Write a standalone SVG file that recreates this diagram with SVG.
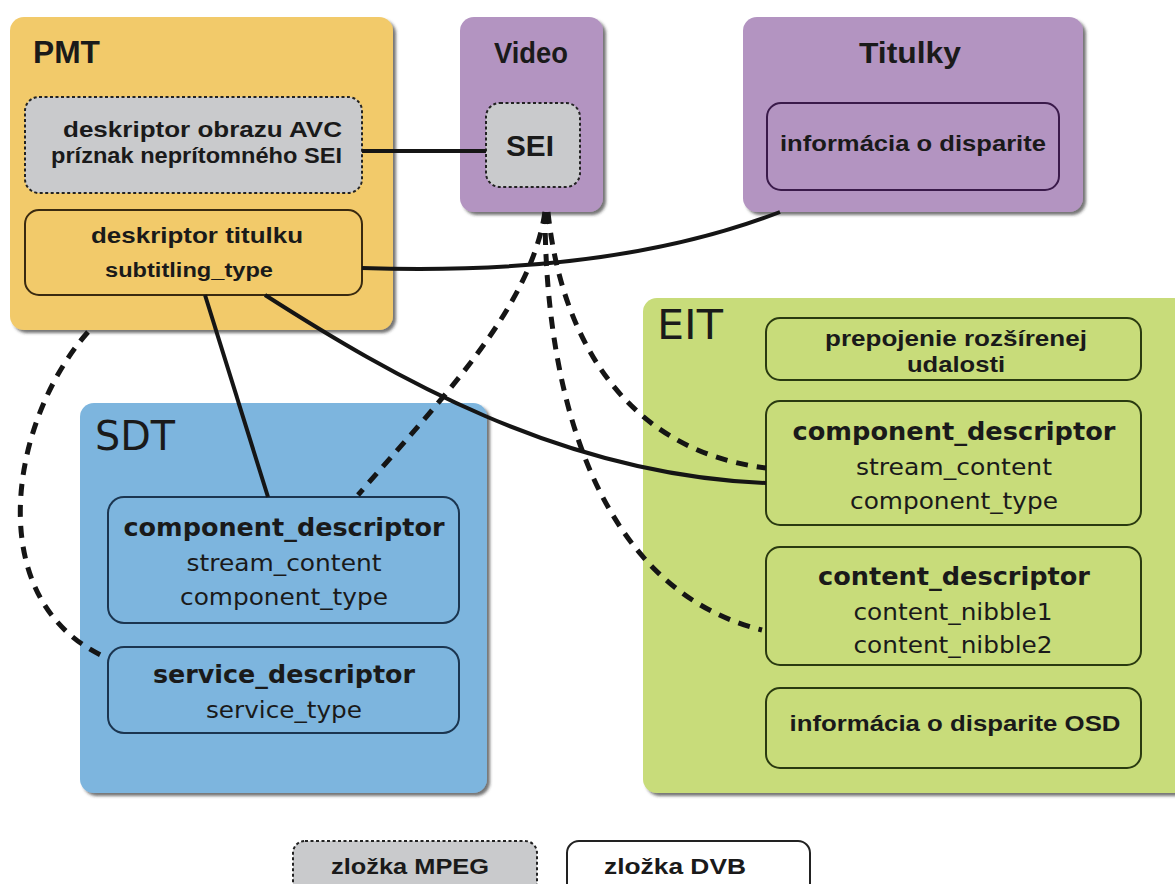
<svg xmlns="http://www.w3.org/2000/svg" width="1175" height="884" viewBox="0 0 1175 884">
  <defs>
    <filter id="shadow" x="-5%" y="-5%" width="115%" height="115%">
      <feDropShadow dx="3" dy="3" stdDeviation="1.8" flood-color="#2a2a2a" flood-opacity="0.65"/>
    </filter>
  </defs>
  <style>
    .panel { filter: url(#shadow); }
    .pmt { fill: #F2CA6A; }
    .purple { fill: #B394C1; }
    .sdt { fill: #7DB5DE; }
    .eit { fill: #C8DC7A; }
    .mpeg { fill: #C9CACC; stroke: #222; stroke-width: 2; stroke-dasharray: 3 2.5; }
    .dvb { fill: none; stroke-width: 2; }
    text { fill: #1a1a1a; }
    .t-title { font-family: "Liberation Sans", Arial, sans-serif; font-weight: bold; font-size: 29px; }
    .t-big { font-family: "DejaVu Sans", Verdana, sans-serif; font-size: 41px; }
    .t-b { font-family: "Liberation Sans", Arial, sans-serif; font-weight: bold; font-size: 22px; }
    .t-vb { font-family: "DejaVu Sans", Verdana, sans-serif; font-weight: bold; font-size: 24px; }
    .t-v { font-family: "DejaVu Sans", Verdana, sans-serif; font-size: 23px; }
    .c { text-anchor: middle; }
    .solid { fill: none; stroke: #151515; stroke-width: 4; }
    .dash { fill: none; stroke: #151515; stroke-width: 5; stroke-dasharray: 12 9; }
  </style>
  <rect width="1175" height="884" fill="#FFFFFF"/>

  <!-- PMT table -->
  <g id="pmt">
    <rect class="panel pmt" x="10" y="17" width="383" height="313" rx="14"/>
    <text class="t-title" x="33" y="63" style="font-size:31px" textLength="67" lengthAdjust="spacingAndGlyphs">PMT</text>
    <g id="pmt-avc">
      <rect class="mpeg" x="25" y="97" width="337" height="96" rx="14"/>
      <text class="t-b" x="63" y="137" textLength="279" lengthAdjust="spacingAndGlyphs">deskriptor obrazu AVC</text>
      <text class="t-b" x="51" y="163" textLength="291" lengthAdjust="spacingAndGlyphs">príznak neprítomného SEI</text>
    </g>
    <g id="pmt-subtitle">
      <rect class="dvb" x="25" y="210" width="337" height="85" rx="14" stroke="#3A2A10"/>
      <text class="t-b c" x="197" y="243" textLength="212" lengthAdjust="spacingAndGlyphs">deskriptor titulku</text>
      <text class="t-b c" x="189" y="277" style="font-size:20px" textLength="168" lengthAdjust="spacingAndGlyphs">subtitling_type</text>
    </g>
  </g>

  <!-- Video elementary stream -->
  <g id="video">
    <rect class="panel purple" x="460" y="17" width="143" height="195" rx="14"/>
    <text class="t-title c" x="531" y="63" textLength="74" lengthAdjust="spacingAndGlyphs">Video</text>
    <g id="video-sei">
      <rect class="mpeg" x="486" y="103" width="94" height="84" rx="14"/>
      <text class="t-title c" x="530" y="156" style="font-size:30px" textLength="48" lengthAdjust="spacingAndGlyphs">SEI</text>
    </g>
  </g>

  <!-- Subtitle stream -->
  <g id="titulky">
    <rect class="panel purple" x="743" y="17" width="340" height="195" rx="14"/>
    <text class="t-title c" x="910" y="63" textLength="102" lengthAdjust="spacingAndGlyphs">Titulky</text>
    <g id="titulky-disparity">
      <rect class="dvb" x="767" y="103" width="292" height="87" rx="14" stroke="#3A1A4A"/>
      <text class="t-b c" x="913" y="151" textLength="266" lengthAdjust="spacingAndGlyphs">informácia o disparite</text>
    </g>
  </g>

  <!-- SDT table -->
  <g id="sdt">
    <rect class="panel sdt" x="80" y="403" width="407" height="390" rx="14"/>
    <text class="t-big" x="95" y="450" textLength="80" lengthAdjust="spacingAndGlyphs">SDT</text>
    <g id="sdt-component">
      <rect class="dvb" x="108" y="497" width="351" height="126" rx="16" stroke="#1B3550"/>
      <text class="t-vb c" x="284" y="536" textLength="321" lengthAdjust="spacingAndGlyphs">component_descriptor</text>
      <text class="t-v c" x="284" y="571" textLength="195" lengthAdjust="spacingAndGlyphs">stream_content</text>
      <text class="t-v c" x="284" y="605" textLength="208" lengthAdjust="spacingAndGlyphs">component_type</text>
    </g>
    <g id="sdt-service">
      <rect class="dvb" x="108" y="647" width="351" height="86" rx="16" stroke="#1B3550"/>
      <text class="t-vb c" x="284" y="683" textLength="262" lengthAdjust="spacingAndGlyphs">service_descriptor</text>
      <text class="t-v c" x="284" y="718" textLength="156" lengthAdjust="spacingAndGlyphs">service_type</text>
    </g>
  </g>

  <!-- EIT table -->
  <g id="eit">
    <rect class="panel eit" x="643" y="298" width="545" height="495" rx="14"/>
    <text class="t-big" x="657" y="339" textLength="66" lengthAdjust="spacingAndGlyphs">EIT</text>
    <g id="eit-linkage">
      <rect class="dvb" x="766" y="318" width="375" height="62" rx="14" stroke="#2A3A10"/>
      <text class="t-b c" x="956" y="346" textLength="262" lengthAdjust="spacingAndGlyphs">prepojenie rozšírenej</text>
      <text class="t-b c" x="956" y="372" textLength="98" lengthAdjust="spacingAndGlyphs">udalosti</text>
    </g>
    <g id="eit-component">
      <rect class="dvb" x="766" y="401" width="375" height="124" rx="14" stroke="#2A3A10"/>
      <text class="t-vb c" x="954" y="440" textLength="323" lengthAdjust="spacingAndGlyphs">component_descriptor</text>
      <text class="t-v c" x="954" y="475" textLength="196" lengthAdjust="spacingAndGlyphs">stream_content</text>
      <text class="t-v c" x="954" y="509" textLength="208" lengthAdjust="spacingAndGlyphs">component_type</text>
    </g>
    <g id="eit-content">
      <rect class="dvb" x="766" y="547" width="375" height="118" rx="14" stroke="#2A3A10"/>
      <text class="t-vb c" x="954" y="585" textLength="272" lengthAdjust="spacingAndGlyphs">content_descriptor</text>
      <text class="t-v c" x="953" y="620" textLength="199" lengthAdjust="spacingAndGlyphs">content_nibble1</text>
      <text class="t-v c" x="953" y="653" textLength="199" lengthAdjust="spacingAndGlyphs">content_nibble2</text>
    </g>
    <g id="eit-osd">
      <rect class="dvb" x="766" y="688" width="375" height="80" rx="14" stroke="#2A3A10"/>
      <text class="t-b c" x="955" y="731" textLength="331" lengthAdjust="spacingAndGlyphs">informácia o disparite OSD</text>
    </g>
  </g>

  <!-- Relations between fields -->
  <g id="connectors">
    <path class="solid" d="M362,151 L486,151"/>
    <path class="solid" d="M362,268 C480,272 640,266 780,212"/>
    <path class="solid" d="M205,295 L268,497"/>
    <path class="solid" d="M265,295 C390,375 560,475 766,483"/>
    <path class="dash" d="M88,332 C10,420 -20,600 105,657"/>
    <path class="dash" d="M545,212 C530,310 440,400 358,495"/>
    <path class="dash" d="M548,212 C560,330 620,450 766,468"/>
    <path class="dash" d="M545,212 C545,400 600,590 762,630"/>
  </g>

  <!-- Legend -->
  <g id="legend">
    <g id="legend-mpeg">
      <rect class="mpeg" x="293" y="841" width="244" height="60" rx="12"/>
      <text class="t-b c" x="410" y="874" textLength="158" lengthAdjust="spacingAndGlyphs">zložka MPEG</text>
    </g>
    <g id="legend-dvb">
      <rect class="dvb" x="567" y="841" width="243" height="60" rx="12" stroke="#222" fill="#FFFFFF"/>
      <text class="t-b c" x="675" y="874" textLength="142" lengthAdjust="spacingAndGlyphs">zložka DVB</text>
    </g>
  </g>
</svg>
